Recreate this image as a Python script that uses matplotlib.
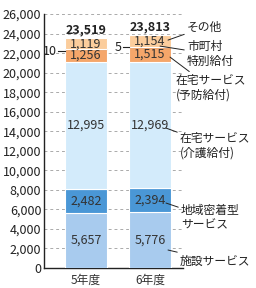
import matplotlib
matplotlib.use("Agg")
import matplotlib.pyplot as plt
import matplotlib.ticker as mticker
import numpy as np

plt.rcParams["font.family"] = ["Noto Sans CJK JP", "DejaVu Sans"]

# ── Datos ─────────────────────────────────────────────────────────────────────
years = ["5年度", "6年度"]
shisetsu = [5657, 5776]        # 施設サービス
chiiki = [2482, 2394]          # 地域密着型サービス
kaigo = [12995, 12969]         # 在宅サービス（介護給付）
yobo = [1256, 1515]            # 在宅サービス（予防給付）
tokubetsu = [10, 5]            # 市町村特別給付
sonota = [1119, 1154]          # その他
totals = [23519, 23813]

series = [shisetsu, chiiki, kaigo, yobo, tokubetsu, sonota]
colors = ["#a8cbee", "#4a97d6", "#d3ebfb", "#f5a66a", "#333333", "#fbcd9c"]
show = [True, True, True, True, False, True]

fig = plt.figure(figsize=(2.56, 2.88), dpi=100)
ax = fig.add_axes([0.172, 0.0694, 0.543, 0.8816])

x = np.arange(len(years))
bottom = np.zeros(len(years))
for vals, col, lab in zip(series, colors, show):
    vals = np.array(vals, dtype=float)
    ax.bar(x, vals, bottom=bottom, width=0.66, color=col,
           edgecolor="white" if lab else col, linewidth=0.8, zorder=3)
    if lab:
        for xi, b, v in zip(x, bottom, vals):
            ax.text(xi, b + v / 2, f"{int(v):,}", ha="center", va="center",
                    fontsize=9, color="#333333", zorder=4)
    bottom += vals

for xi, t in zip(x, totals):
    ax.text(xi, t + 250, f"{t:,}", ha="center", va="bottom",
            fontsize=9, fontweight="bold", color="#222222", zorder=4)

ax.set_ylim(0, 26000)
ax.set_xlim(-0.656, 1.516)
ax.yaxis.set_major_locator(mticker.MultipleLocator(2000))
ax.yaxis.set_major_formatter(mticker.FuncFormatter(lambda v, _: f"{v:,.0f}"))
ax.grid(axis="y", linestyle=(0, (3, 3)), color="#aaaaaa", linewidth=0.7, zorder=0)
ax.set_xticks(x)
ax.set_xticklabels(years, fontsize=8.5, color="#333333")
ax.tick_params(axis="y", labelsize=9, length=0, pad=2, colors="#222222")
ax.tick_params(axis="x", length=0, pad=4)
for s in ["top", "right"]:
    ax.spines[s].set_visible(False)
ax.spines["left"].set_color("#222222")
ax.spines["bottom"].set_color("#222222")
ax.spines["left"].set_linewidth(1.0)
ax.spines["bottom"].set_linewidth(1.0)


# ── Anotaciones (en píxeles de la figura) ─────────────────────────────────────
def px(xp, yp):
    return ((xp - 86) / 64, (268 - yp) * 26000 / 254)


def nota(texto, xy, xytext, ha="left"):
    ax.annotate(texto, xy=px(*xy), xytext=px(*xytext), xycoords="data",
                textcoords="data", ha=ha, va="center", fontsize=8.5,
                color="#222222", linespacing=1.15, annotation_clip=False,
                arrowprops=dict(arrowstyle="-", color="#222222", lw=0.7,
                                shrinkA=0, shrinkB=0))


nota("その他", (168, 40), (187, 27))
nota("市町村\n特別給付", (160, 46), (187, 54))
nota("在宅サービス\n(予防給付)", (170, 57), (176, 88))
nota("在宅サービス\n(介護給付)", (166, 128), (180, 146))
nota("地域密着型\nサービス", (166, 203), (181, 218))
nota("施設サービス", (168, 250), (180, 261))


# valores pequeños de 市町村特別給付 con línea hacia la barra
def nota_chica(texto, x_txt, x0, x1, y):
    xa, ya = px(x_txt, y)
    ax.text(xa, ya, texto, ha="right", va="center", fontsize=9,
            color="#222222", clip_on=False)
    (xl0, _), (xl1, _) = px(x0, y), px(x1, y)
    ax.plot([xl0, xl1], [ya, ya], color="#222222", lw=0.8, clip_on=False,
            zorder=5)


nota_chica(str(tokubetsu[0]), 57, 58, 65, 51)
nota_chica(str(tokubetsu[1]), 122, 123, 129, 47)

plt.savefig("out.png", dpi=100)
plt.close()
